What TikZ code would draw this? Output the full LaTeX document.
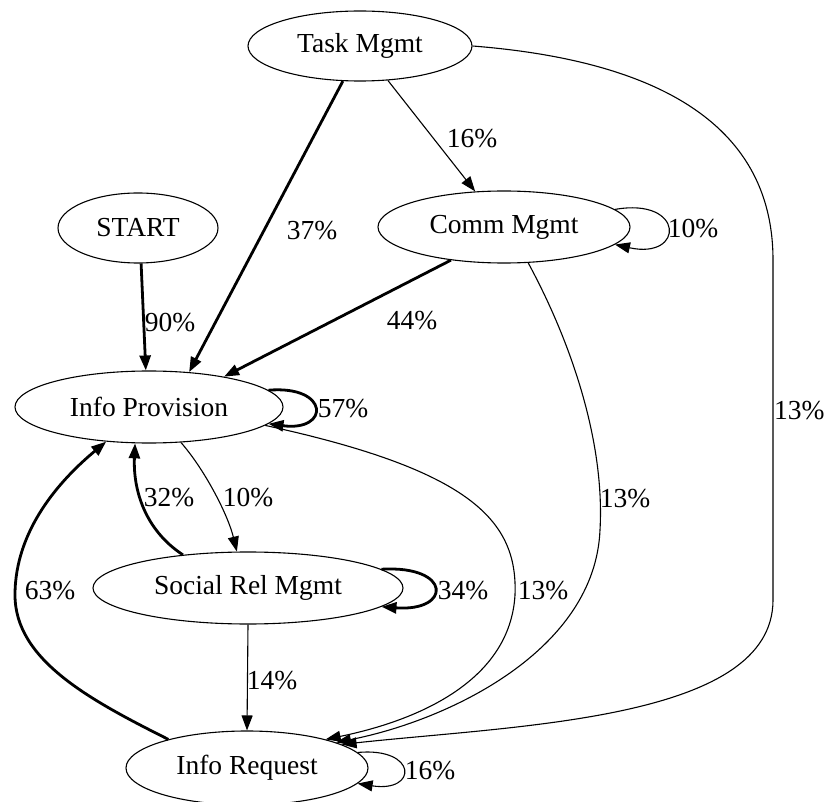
\documentclass[tikz,border=0pt]{standalone}
\usepackage{fontspec}
\setmainfont{Liberation Serif}
\usetikzlibrary{shapes.geometric,arrows.meta}
\tikzset{
  st/.style={ellipse,draw,line width=1.1pt,inner sep=0pt},
  lab/.style={inner sep=0pt},
  thin/.style={line width=1.1pt,-{Triangle[length=15pt,width=11pt]}},
  thick/.style={line width=2.8pt,-{Triangle[length=15pt,width=11pt]}}
}
\begin{document}
\begin{tikzpicture}[x=1pt,y=-1pt,font=\fontsize{27.5}{32}\selectfont]
\useasboundingbox (0,0) rectangle (825,802);
\node[st,minimum width=224pt,minimum height=70pt] (T) at (360,46) {Task Mgmt};
\node[st,minimum width=160pt,minimum height=70pt] (S) at (138,228) {START};
\node[st,minimum width=252pt,minimum height=72pt] (CM) at (504,227) {Comm Mgmt};
\node[st,minimum width=268pt,minimum height=72pt] (IP) at (149,407) {Info Provision};
\node[st,minimum width=310pt,minimum height=72pt] (SR) at (248,588) {Social Rel Mgmt};
\node[st,minimum width=242pt,minimum height=74pt] (IR) at (247,768) {Info Request};

% edges
\draw[thick] (T.-116) -- (IP.41);
\draw[thin] (T.-51) -- (CM.129);
\draw[thin] (T.east) .. controls (650,60) and (773,120) .. (773,260) -- (773,600)
  .. controls (773,720) and (520,725) .. (IR.14);
\draw[thick] (S.-85) -- (IP.95);
\draw[thick] (CM.-148) -- (IP.22);
\draw[thin] (CM.9) .. controls (685,197) and (685,260) .. (CM.-9);
\draw[thin] (CM.-56) .. controls (570,340) and (605,440) .. (600,530)
  .. controls (595,650) and (450,720) .. (IR.16);
\draw[thick] (IP.8) .. controls (330,385) and (330,432) .. (IP.-8);
\draw[thin] (IP.-9) .. controls (470,470) and (518,520) .. (515,595)
  .. controls (510,680) and (420,720) .. (IR.20);
\draw[thin] (IP.-48) .. controls (205,470) and (228,515) .. (SR.107);
\draw[thick] (SR.153) .. controls (145,530) and (133,490) .. (IP.-111);
\draw[thick] (IR.160) .. controls (90,700) and (15,660) .. (15,595)
  .. controls (15,530) and (60,480) .. (IP.-141);
\draw[thick] (SR.8) .. controls (452,565) and (452,612) .. (SR.-8);
\draw[thin] (SR.south) -- (IR.north);
\draw[thin] (IR.8) .. controls (418,747) and (418,793) .. (IR.-8);

% labels
\node[lab] (l37) at (312,231) {37\%};
\node[lab] (l16a) at (472,139) {16\%};
\node[lab] (l90) at (170,323) {90\%};
\node[lab] (l44) at (412,321) {44\%};
\node[lab] (l10a) at (693,229) {10\%};
\node[lab,anchor=west] (l13a) at (774,411) {13\%};
\node[lab] (l13b) at (625,499) {13\%};
\node[lab] (l57) at (343,409) {57\%};
\node[lab] (l13c) at (543,591) {13\%};
\node[lab] (l10b) at (248,498) {10\%};
\node[lab] (l32) at (169,498) {32\%};
\node[lab] (l63) at (50,591) {63\%};
\node[lab] (l34) at (463,591) {34\%};
\node[lab] (l14) at (272,681) {14\%};
\node[lab] (l16b) at (430,771) {16\%};
\end{tikzpicture}
\end{document}
